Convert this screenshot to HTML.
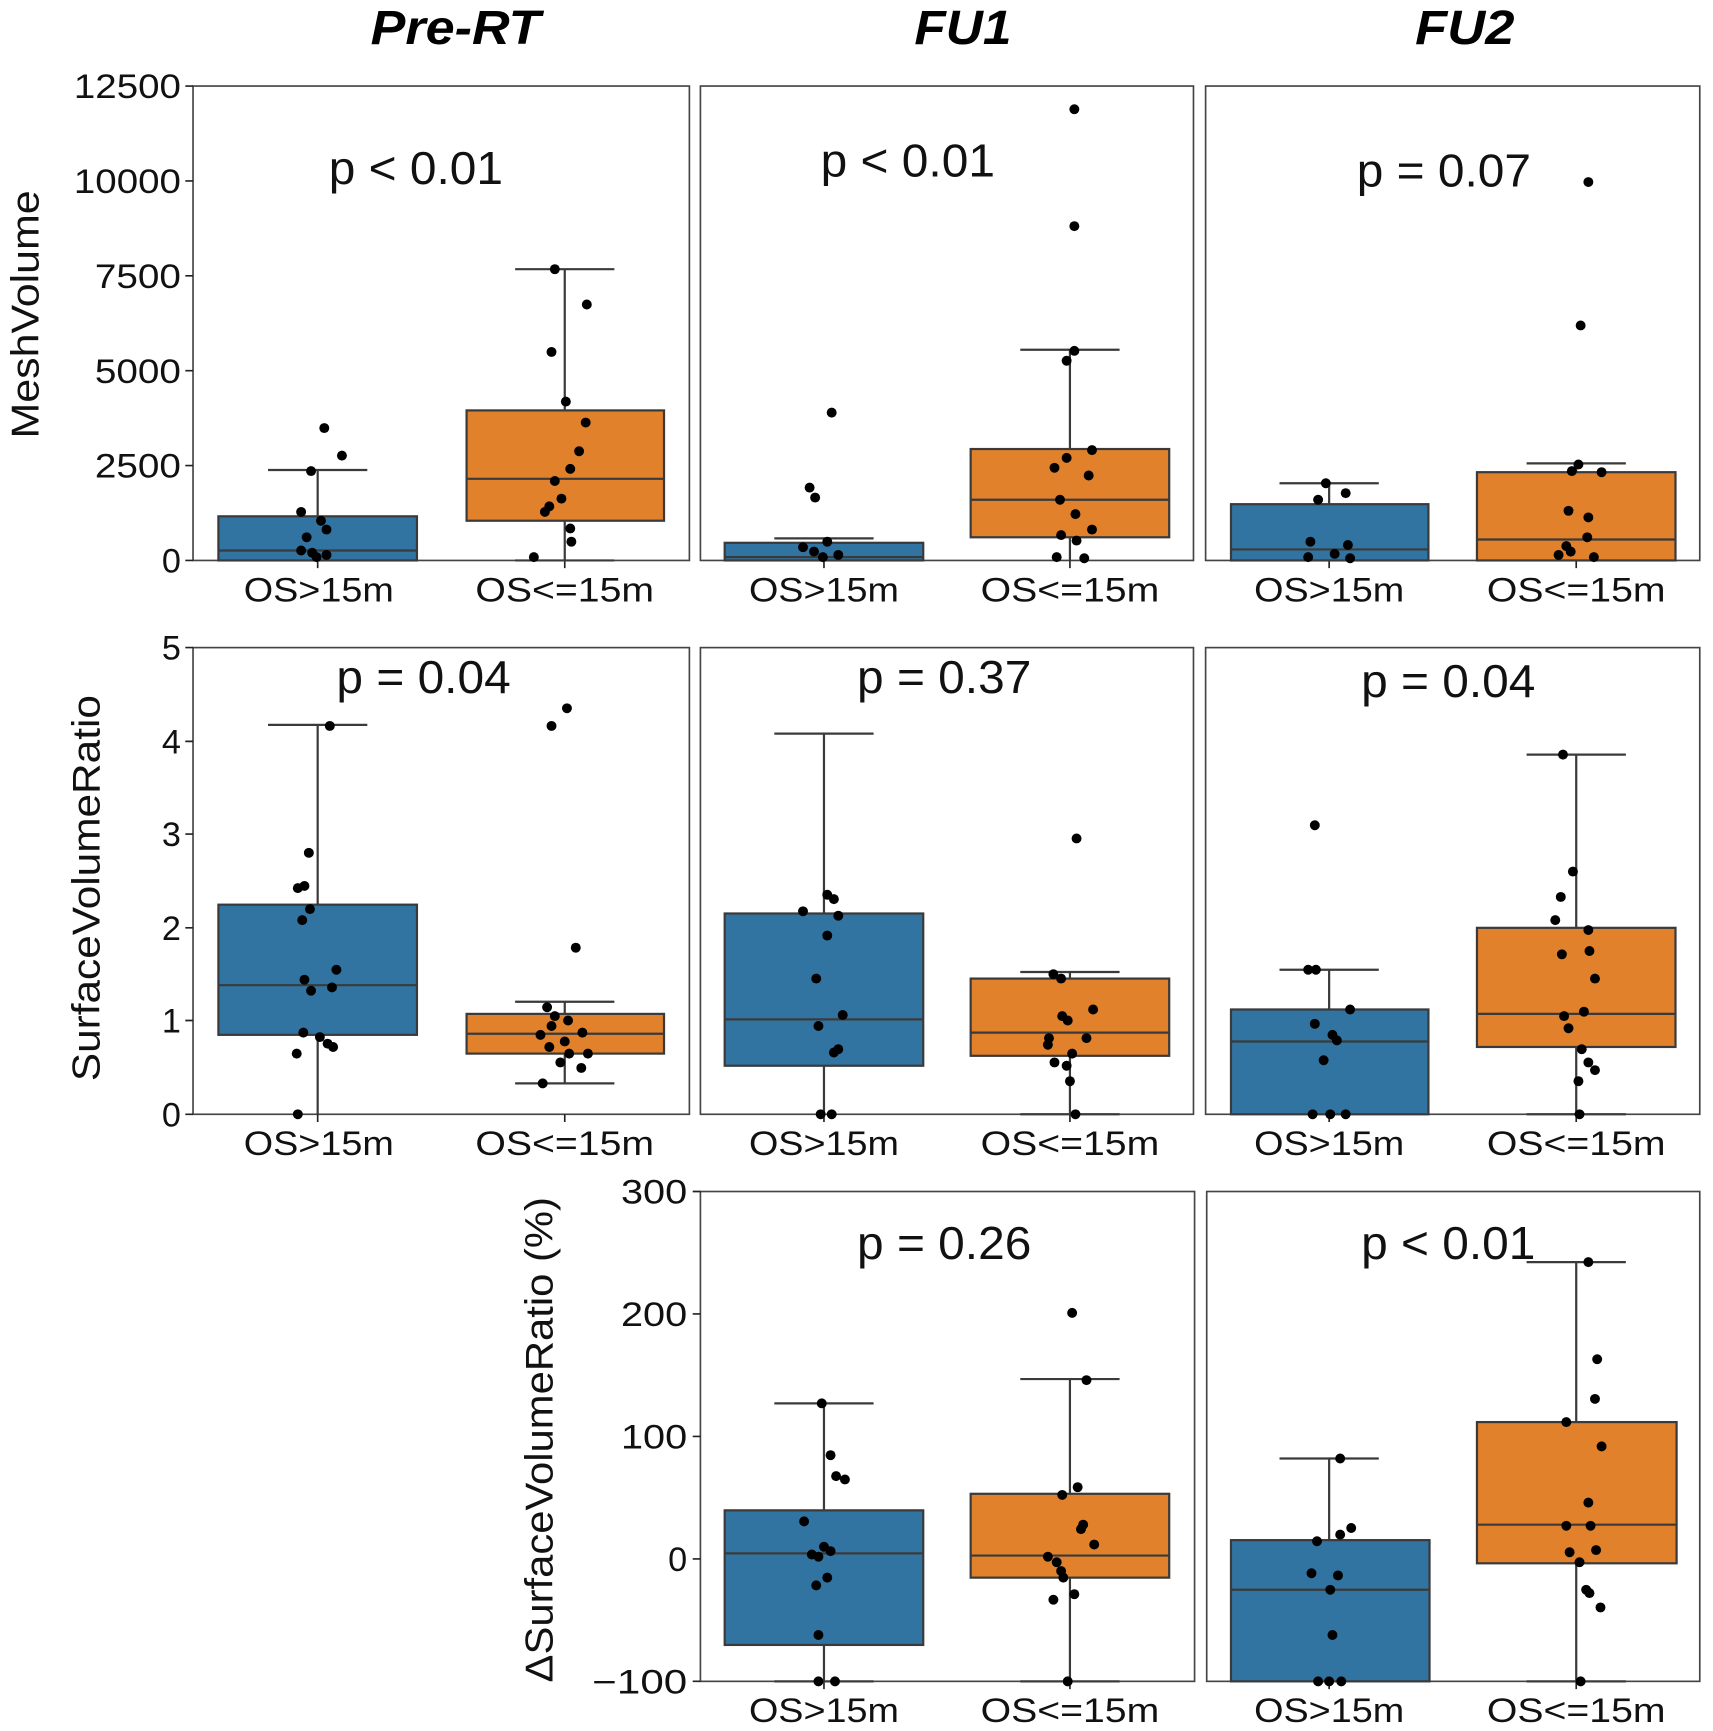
<!DOCTYPE html>
<html><head><meta charset="utf-8"><style>html,body{margin:0;padding:0;background:#fff}svg{display:block}</style></head><body>
<svg width="1713" height="1731" viewBox="0 0 1553 1569" preserveAspectRatio="none" xmlns="http://www.w3.org/2000/svg" font-family="Liberation Sans, DejaVu Sans, sans-serif">
<g font-size="44" font-weight="bold" font-style="italic" text-anchor="middle" lengthAdjust="spacingAndGlyphs">
<text x="413" y="40" textLength="154" lengthAdjust="spacingAndGlyphs">Pre-RT</text><text x="873" y="40" textLength="88" lengthAdjust="spacingAndGlyphs">FU1</text><text x="1328" y="40" textLength="90" lengthAdjust="spacingAndGlyphs">FU2</text></g>
<g fill="none" stroke="#444" stroke-width="1.5">
<rect x="175" y="78" width="450" height="430"/><rect x="635" y="78" width="447" height="430"/><rect x="1093" y="78" width="448" height="430"/>
<rect x="175" y="587" width="450" height="423"/><rect x="635" y="587" width="447" height="423"/><rect x="1093" y="587" width="448" height="423"/>
<rect x="635" y="1080" width="448" height="444"/><rect x="1094" y="1080" width="447" height="444"/>
</g>
<g stroke="#222" stroke-width="1.5">
<path d="M168 78H175M168 164H175M168 250H175M168 336H175M168 422H175M168 508H175"/>
<path d="M168 587H175M168 672H175M168 756H175M168 841H175M168 925H175M168 1010H175"/>
<path d="M628 1080H635M628 1191H635M628 1302H635M628 1413H635M628 1524H635"/>
<path d="M288 508V515M512 508V515M747 508V515M970 508V515M1205 508V515M1429 508V515"/>
<path d="M288 1010V1017M512 1010V1017M747 1010V1017M970 1010V1017M1205 1010V1017M1429 1010V1017"/>
<path d="M747 1524V1531M970 1524V1531M1205 1524V1531M1429 1524V1531"/>
</g>
<g font-size="31" text-anchor="end" fill="#111">
<text x="164" y="89" textLength="97" lengthAdjust="spacingAndGlyphs">12500</text><text x="164" y="175" textLength="97" lengthAdjust="spacingAndGlyphs">10000</text><text x="164" y="261" textLength="78" lengthAdjust="spacingAndGlyphs">7500</text><text x="164" y="347" textLength="78" lengthAdjust="spacingAndGlyphs">5000</text><text x="164" y="433" textLength="78" lengthAdjust="spacingAndGlyphs">2500</text><text x="164" y="519">0</text>
<text x="164" y="598">5</text><text x="164" y="683">4</text><text x="164" y="767">3</text><text x="164" y="852">2</text><text x="164" y="936">1</text><text x="164" y="1021">0</text>
<text x="623" y="1091" textLength="60" lengthAdjust="spacingAndGlyphs">300</text><text x="623" y="1202" textLength="60" lengthAdjust="spacingAndGlyphs">200</text><text x="623" y="1313" textLength="60" lengthAdjust="spacingAndGlyphs">100</text><text x="623" y="1424">0</text><text x="623" y="1535" textLength="86" lengthAdjust="spacingAndGlyphs">−100</text>
</g>
<g font-size="31" text-anchor="middle" fill="#111">
<text x="289" y="545" textLength="136" lengthAdjust="spacingAndGlyphs">OS&gt;15m</text><text x="512" y="545" textLength="162" lengthAdjust="spacingAndGlyphs">OS&lt;=15m</text><text x="747" y="545" textLength="136" lengthAdjust="spacingAndGlyphs">OS&gt;15m</text><text x="970" y="545" textLength="162" lengthAdjust="spacingAndGlyphs">OS&lt;=15m</text><text x="1205" y="545" textLength="136" lengthAdjust="spacingAndGlyphs">OS&gt;15m</text><text x="1429" y="545" textLength="162" lengthAdjust="spacingAndGlyphs">OS&lt;=15m</text>
<text x="289" y="1047" textLength="136" lengthAdjust="spacingAndGlyphs">OS&gt;15m</text><text x="512" y="1047" textLength="162" lengthAdjust="spacingAndGlyphs">OS&lt;=15m</text><text x="747" y="1047" textLength="136" lengthAdjust="spacingAndGlyphs">OS&gt;15m</text><text x="970" y="1047" textLength="162" lengthAdjust="spacingAndGlyphs">OS&lt;=15m</text><text x="1205" y="1047" textLength="136" lengthAdjust="spacingAndGlyphs">OS&gt;15m</text><text x="1429" y="1047" textLength="162" lengthAdjust="spacingAndGlyphs">OS&lt;=15m</text>
<text x="747" y="1561" textLength="136" lengthAdjust="spacingAndGlyphs">OS&gt;15m</text><text x="970" y="1561" textLength="162" lengthAdjust="spacingAndGlyphs">OS&lt;=15m</text><text x="1205" y="1561" textLength="136" lengthAdjust="spacingAndGlyphs">OS&gt;15m</text><text x="1429" y="1561" textLength="162" lengthAdjust="spacingAndGlyphs">OS&lt;=15m</text>
</g>
<g font-size="35" text-anchor="middle" fill="#111">
<text transform="translate(35,285) rotate(-90)" textLength="225" lengthAdjust="spacingAndGlyphs">MeshVolume</text>
<text transform="translate(90,805) rotate(-90)" textLength="350" lengthAdjust="spacingAndGlyphs">SurfaceVolumeRatio</text>
<text transform="translate(501,1305) rotate(-90)" textLength="440" lengthAdjust="spacingAndGlyphs">ΔSurfaceVolumeRatio (%)</text>
</g>
<g font-size="42" text-anchor="middle" fill="#111">
<text x="377" y="167" textLength="158" lengthAdjust="spacingAndGlyphs">p &lt; 0.01</text><text x="823" y="160" textLength="158" lengthAdjust="spacingAndGlyphs">p &lt; 0.01</text><text x="1309" y="169" textLength="158" lengthAdjust="spacingAndGlyphs">p = 0.07</text>
<text x="384" y="628" textLength="158" lengthAdjust="spacingAndGlyphs">p = 0.04</text><text x="856" y="628" textLength="158" lengthAdjust="spacingAndGlyphs">p = 0.37</text><text x="1313" y="632" textLength="158" lengthAdjust="spacingAndGlyphs">p = 0.04</text>
<text x="856" y="1141" textLength="158" lengthAdjust="spacingAndGlyphs">p = 0.26</text><text x="1313" y="1141" textLength="158" lengthAdjust="spacingAndGlyphs">p &lt; 0.01</text>
</g>
<g stroke="#3a3a3a" stroke-width="2">
<path d="M288 468V426M243 426H333"/><rect x="198" y="468" width="180" height="40" fill="#3274a1"/><path d="M198 499H378"/>
<path d="M512 372V244M512 472V508M467 244H557M467 508H557"/><rect x="423" y="372" width="179" height="100" fill="#e1812c"/><path d="M423 434H602"/>
<path d="M747 492V488M702 488H792"/><rect x="657" y="492" width="180" height="16" fill="#3274a1"/><path d="M657 505H837"/>
<path d="M970 407V317M970 487V508M925 317H1015"/><rect x="880" y="407" width="180" height="80" fill="#e1812c"/><path d="M880 453H1060"/>
<path d="M1205 457V438M1160 438H1250"/><rect x="1116" y="457" width="179" height="51" fill="#3274a1"/><path d="M1116 498H1295"/>
<path d="M1429 428V420M1384 420H1474"/><rect x="1339" y="428" width="180" height="80" fill="#e1812c"/><path d="M1339 489H1519"/>
<path d="M288 820V657M288 938V1010M243 657H333"/><rect x="198" y="820" width="180" height="118" fill="#3274a1"/><path d="M198 893H378"/>
<path d="M512 919V908M512 955V982M467 908H557M467 982H557"/><rect x="423" y="919" width="179" height="36" fill="#e1812c"/><path d="M423 937H602"/>
<path d="M747 828V665M747 966V1010M702 665H792"/><rect x="657" y="828" width="180" height="138" fill="#3274a1"/><path d="M657 924H837"/>
<path d="M970 887V881M970 957V1010M925 881H1015M925 1010H1015"/><rect x="880" y="887" width="180" height="70" fill="#e1812c"/><path d="M880 936H1060"/>
<path d="M1205 915V879M1160 879H1250"/><rect x="1116" y="915" width="179" height="95" fill="#3274a1"/><path d="M1116 944H1295"/>
<path d="M1429 841V684M1429 949V1010M1384 684H1474M1384 1010H1474"/><rect x="1339" y="841" width="180" height="108" fill="#e1812c"/><path d="M1339 919H1519"/>
<path d="M747 1369V1272M747 1491V1524M702 1272H792M702 1524H792"/><rect x="657" y="1369" width="180" height="122" fill="#3274a1"/><path d="M657 1408H837"/>
<path d="M970 1354V1250M970 1430V1524M925 1250H1015M925 1524H1015"/><rect x="880" y="1354" width="180" height="76" fill="#e1812c"/><path d="M880 1410H1060"/>
<path d="M1205 1396V1322M1160 1322H1250"/><rect x="1116" y="1396" width="180" height="128" fill="#3274a1"/><path d="M1116 1441H1296"/>
<path d="M1429 1289V1144M1429 1417V1524M1384 1144H1474M1384 1524H1474"/><rect x="1339" y="1289" width="181" height="128" fill="#e1812c"/><path d="M1339 1382H1520"/>
</g>
<g fill="#000">
<circle cx="294" cy="388" r="4.5"/><circle cx="310" cy="413" r="4.5"/><circle cx="282" cy="427" r="4.5"/><circle cx="273" cy="464" r="4.5"/><circle cx="291" cy="472" r="4.5"/><circle cx="296" cy="480" r="4.5"/><circle cx="278" cy="487" r="4.5"/><circle cx="273" cy="499" r="4.5"/><circle cx="283" cy="501" r="4.5"/><circle cx="296" cy="503" r="4.5"/><circle cx="287" cy="505" r="4.5"/>
<circle cx="503" cy="244" r="4.5"/><circle cx="532" cy="276" r="4.5"/><circle cx="500" cy="319" r="4.5"/><circle cx="513" cy="364" r="4.5"/><circle cx="531" cy="383" r="4.5"/><circle cx="525" cy="409" r="4.5"/><circle cx="517" cy="425" r="4.5"/><circle cx="503" cy="436" r="4.5"/><circle cx="509" cy="452" r="4.5"/><circle cx="498" cy="459" r="4.5"/><circle cx="494" cy="464" r="4.5"/><circle cx="517" cy="479" r="4.5"/><circle cx="518" cy="491" r="4.5"/><circle cx="484" cy="505" r="4.5"/>
<circle cx="754" cy="374" r="4.5"/><circle cx="734" cy="442" r="4.5"/><circle cx="739" cy="451" r="4.5"/><circle cx="750" cy="491" r="4.5"/><circle cx="728" cy="496" r="4.5"/><circle cx="738" cy="500" r="4.5"/><circle cx="760" cy="503" r="4.5"/><circle cx="746" cy="505" r="4.5"/>
<circle cx="974" cy="99" r="4.5"/><circle cx="974" cy="205" r="4.5"/><circle cx="974" cy="318" r="4.5"/><circle cx="967" cy="327" r="4.5"/><circle cx="990" cy="408" r="4.5"/><circle cx="967" cy="415" r="4.5"/><circle cx="956" cy="424" r="4.5"/><circle cx="987" cy="431" r="4.5"/><circle cx="961" cy="453" r="4.5"/><circle cx="975" cy="466" r="4.5"/><circle cx="990" cy="480" r="4.5"/><circle cx="962" cy="485" r="4.5"/><circle cx="976" cy="490" r="4.5"/><circle cx="958" cy="505" r="4.5"/><circle cx="983" cy="506" r="4.5"/>
<circle cx="1202" cy="438" r="4.5"/><circle cx="1220" cy="447" r="4.5"/><circle cx="1195" cy="453" r="4.5"/><circle cx="1188" cy="491" r="4.5"/><circle cx="1222" cy="494" r="4.5"/><circle cx="1210" cy="502" r="4.5"/><circle cx="1186" cy="505" r="4.5"/><circle cx="1224" cy="506" r="4.5"/>
<circle cx="1440" cy="165" r="4.5"/><circle cx="1433" cy="295" r="4.5"/><circle cx="1431" cy="421" r="4.5"/><circle cx="1425" cy="427" r="4.5"/><circle cx="1452" cy="428" r="4.5"/><circle cx="1422" cy="463" r="4.5"/><circle cx="1440" cy="469" r="4.5"/><circle cx="1439" cy="487" r="4.5"/><circle cx="1420" cy="495" r="4.5"/><circle cx="1424" cy="500" r="4.5"/><circle cx="1413" cy="503" r="4.5"/><circle cx="1445" cy="505" r="4.5"/>
<circle cx="299" cy="658" r="4.5"/><circle cx="280" cy="773" r="4.5"/><circle cx="276" cy="803" r="4.5"/><circle cx="270" cy="805" r="4.5"/><circle cx="281" cy="824" r="4.5"/><circle cx="274" cy="834" r="4.5"/><circle cx="305" cy="879" r="4.5"/><circle cx="276" cy="888" r="4.5"/><circle cx="301" cy="895" r="4.5"/><circle cx="282" cy="898" r="4.5"/><circle cx="275" cy="936" r="4.5"/><circle cx="290" cy="940" r="4.5"/><circle cx="297" cy="946" r="4.5"/><circle cx="302" cy="949" r="4.5"/><circle cx="269" cy="955" r="4.5"/><circle cx="270" cy="1010" r="4.5"/>
<circle cx="514" cy="642" r="4.5"/><circle cx="500" cy="658" r="4.5"/><circle cx="522" cy="859" r="4.5"/><circle cx="496" cy="913" r="4.5"/><circle cx="503" cy="921" r="4.5"/><circle cx="515" cy="925" r="4.5"/><circle cx="500" cy="930" r="4.5"/><circle cx="528" cy="936" r="4.5"/><circle cx="490" cy="938" r="4.5"/><circle cx="512" cy="944" r="4.5"/><circle cx="498" cy="949" r="4.5"/><circle cx="516" cy="955" r="4.5"/><circle cx="533" cy="955" r="4.5"/><circle cx="508" cy="963" r="4.5"/><circle cx="527" cy="968" r="4.5"/><circle cx="492" cy="982" r="4.5"/>
<circle cx="750" cy="811" r="4.5"/><circle cx="756" cy="815" r="4.5"/><circle cx="728" cy="826" r="4.5"/><circle cx="760" cy="830" r="4.5"/><circle cx="750" cy="848" r="4.5"/><circle cx="740" cy="887" r="4.5"/><circle cx="764" cy="920" r="4.5"/><circle cx="742" cy="930" r="4.5"/><circle cx="760" cy="951" r="4.5"/><circle cx="756" cy="954" r="4.5"/><circle cx="744" cy="1010" r="4.5"/><circle cx="754" cy="1010" r="4.5"/>
<circle cx="976" cy="760" r="4.5"/><circle cx="955" cy="883" r="4.5"/><circle cx="962" cy="887" r="4.5"/><circle cx="991" cy="915" r="4.5"/><circle cx="963" cy="921" r="4.5"/><circle cx="968" cy="925" r="4.5"/><circle cx="951" cy="941" r="4.5"/><circle cx="985" cy="941" r="4.5"/><circle cx="950" cy="947" r="4.5"/><circle cx="972" cy="955" r="4.5"/><circle cx="956" cy="963" r="4.5"/><circle cx="967" cy="966" r="4.5"/><circle cx="970" cy="980" r="4.5"/><circle cx="975" cy="1010" r="4.5"/>
<circle cx="1192" cy="748" r="4.5"/><circle cx="1186" cy="879" r="4.5"/><circle cx="1193" cy="879" r="4.5"/><circle cx="1224" cy="915" r="4.5"/><circle cx="1192" cy="928" r="4.5"/><circle cx="1208" cy="938" r="4.5"/><circle cx="1212" cy="943" r="4.5"/><circle cx="1200" cy="961" r="4.5"/><circle cx="1190" cy="1010" r="4.5"/><circle cx="1206" cy="1010" r="4.5"/><circle cx="1220" cy="1010" r="4.5"/>
<circle cx="1417" cy="684" r="4.5"/><circle cx="1426" cy="790" r="4.5"/><circle cx="1415" cy="813" r="4.5"/><circle cx="1410" cy="834" r="4.5"/><circle cx="1440" cy="843" r="4.5"/><circle cx="1416" cy="865" r="4.5"/><circle cx="1441" cy="862" r="4.5"/><circle cx="1446" cy="887" r="4.5"/><circle cx="1436" cy="917" r="4.5"/><circle cx="1418" cy="921" r="4.5"/><circle cx="1422" cy="932" r="4.5"/><circle cx="1434" cy="951" r="4.5"/><circle cx="1440" cy="963" r="4.5"/><circle cx="1446" cy="970" r="4.5"/><circle cx="1431" cy="980" r="4.5"/><circle cx="1432" cy="1010" r="4.5"/>
<circle cx="745" cy="1272" r="4.5"/><circle cx="753" cy="1319" r="4.5"/><circle cx="758" cy="1338" r="4.5"/><circle cx="766" cy="1341" r="4.5"/><circle cx="729" cy="1379" r="4.5"/><circle cx="747" cy="1402" r="4.5"/><circle cx="753" cy="1406" r="4.5"/><circle cx="736" cy="1409" r="4.5"/><circle cx="742" cy="1411" r="4.5"/><circle cx="750" cy="1430" r="4.5"/><circle cx="740" cy="1437" r="4.5"/><circle cx="742" cy="1482" r="4.5"/><circle cx="742" cy="1524" r="4.5"/><circle cx="757" cy="1524" r="4.5"/>
<circle cx="972" cy="1190" r="4.5"/><circle cx="985" cy="1251" r="4.5"/><circle cx="977" cy="1348" r="4.5"/><circle cx="963" cy="1355" r="4.5"/><circle cx="982" cy="1382" r="4.5"/><circle cx="980" cy="1386" r="4.5"/><circle cx="992" cy="1400" r="4.5"/><circle cx="950" cy="1411" r="4.5"/><circle cx="958" cy="1416" r="4.5"/><circle cx="962" cy="1424" r="4.5"/><circle cx="964" cy="1430" r="4.5"/><circle cx="974" cy="1445" r="4.5"/><circle cx="955" cy="1450" r="4.5"/><circle cx="968" cy="1524" r="4.5"/>
<circle cx="1215" cy="1322" r="4.5"/><circle cx="1225" cy="1385" r="4.5"/><circle cx="1215" cy="1391" r="4.5"/><circle cx="1194" cy="1397" r="4.5"/><circle cx="1189" cy="1426" r="4.5"/><circle cx="1213" cy="1428" r="4.5"/><circle cx="1206" cy="1441" r="4.5"/><circle cx="1208" cy="1482" r="4.5"/><circle cx="1195" cy="1524" r="4.5"/><circle cx="1205" cy="1524" r="4.5"/><circle cx="1216" cy="1524" r="4.5"/>
<circle cx="1440" cy="1144" r="4.5"/><circle cx="1448" cy="1232" r="4.5"/><circle cx="1446" cy="1268" r="4.5"/><circle cx="1420" cy="1289" r="4.5"/><circle cx="1452" cy="1311" r="4.5"/><circle cx="1440" cy="1362" r="4.5"/><circle cx="1420" cy="1383" r="4.5"/><circle cx="1442" cy="1383" r="4.5"/><circle cx="1423" cy="1407" r="4.5"/><circle cx="1447" cy="1405" r="4.5"/><circle cx="1432" cy="1416" r="4.5"/><circle cx="1438" cy="1441" r="4.5"/><circle cx="1441" cy="1444" r="4.5"/><circle cx="1451" cy="1457" r="4.5"/><circle cx="1433" cy="1524" r="4.5"/>
</g>
</svg>
</body></html>
